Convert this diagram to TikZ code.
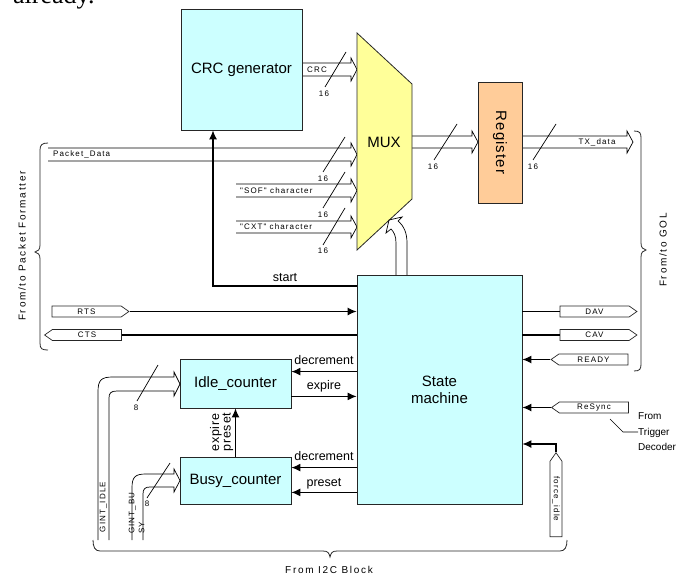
\documentclass[tikz,border=0pt]{standalone}
\usepackage{fontspec}
\setmainfont{Liberation Sans}
\newfontfamily\lsfont[LetterSpace=14]{Liberation Sans}
\newfontfamily\lmfont[LetterSpace=17]{Liberation Sans}
\newfontfamily\lrfont[LetterSpace=7]{Liberation Sans}
\newfontfamily\serfont{Liberation Serif}
\usetikzlibrary{shapes.symbols,arrows.meta,calc}
\definecolor{cyanbox}{HTML}{CCFFFF}
\definecolor{muxy}{HTML}{FFFF99}
\definecolor{regc}{HTML}{FFCC99}
\definecolor{edge}{HTML}{262626}
\newcommand\hbus[4]{\draw[busl] (#1,#3) -- ({#2-6},#3) -- ({#2-6},{#3-5}) -- (#2,{(#3+#4)/2}) -- ({#2-6},{#4+5}) -- ({#2-6},#4) -- (#1,#4);}
\begin{document}
\begin{tikzpicture}[x=1pt,y=-1pt,
  box/.style={draw=edge, line width=0.8pt, inner sep=0, font=\fontsize{15}{17}\selectfont, align=center},
  ctl/.style={line width=1.2pt},
  arr/.style={-{Latex[length=9pt,width=8pt]}},
  busl/.style={line width=0.7pt, line join=miter},
  sig/.style={shape=signal, draw=edge, line width=0.7pt, inner sep=0, minimum height=11pt, minimum width=77pt, signal pointer angle=70, font=\lsfont\fontsize{8}{9}\selectfont},
  small/.style={font=\lsfont\fontsize{8}{9}\selectfont, inner sep=0},
  med/.style={font=\fontsize{12.5}{14}\selectfont, inner sep=0},
  vmed/.style={font=\lrfont\fontsize{12.5}{14}\selectfont, inner sep=0},
  side/.style={font=\lmfont\fontsize{10}{12}\selectfont, inner sep=0},
  slash/.style={line width=0.7pt},
  brace/.style={line width=0.8pt, draw=edge}]
\useasboundingbox (0,0) rectangle (690,578);
\clip (0,0) rectangle (690,578);

\node[anchor=base west, inner sep=0, font=\serfont\fontsize{26}{30}\selectfont] (already) at (13,4) {already.};

% buses (drawn first)
\hbus{302}{357}{63}{76}
\hbus{48}{357}{148}{161}
\hbus{236}{357}{184}{197}
\hbus{236}{357}{221}{233}
\hbus{412}{478}{136}{148}
\hbus{522}{633}{136}{148}

% MUX
\draw[fill=muxy, draw=edge, line width=0.8pt] (357,33) -- (412,84) -- (412,199) -- (357,250) -- cycle;
\node[font=\fontsize{15}{17}\selectfont, inner sep=0] (mux) at (384,142) {MUX};

% boxes
\node[box, fill=cyanbox, minimum width=121pt, minimum height=121pt] (crc) at (241.5,69.5) {CRC generator};
\node[box, fill=regc, minimum width=121pt, minimum height=44pt, rotate=-90, font=\lrfont\fontsize{15}{17}\selectfont] (reg) at (500,142.5) {Register};
\node[box, fill=cyanbox, minimum width=165pt, minimum height=229pt] (sm) at (439.5,389.5) {State\\machine};
\node[box, fill=cyanbox, minimum width=111pt, minimum height=49pt] (idle) at (235.5,383.5) {Idle\_counter};
\node[box, fill=cyanbox, minimum width=111pt, minimum height=47pt] (busy) at (235.5,480.5) {Busy\_counter};

% bus labels
\node[small] (lcrc) at (317,70) {CRC};
\node[small, anchor=west] (lpd) at (53,154.5) {Packet\_Data};
\node[small, anchor=west] (lsof) at (240,190.5) {"SOF" character};
\node[small, anchor=west] (lcxt) at (240,227) {"CXT" character};
\node[small] (ltx) at (597,142) {TX\_data};

% slashes
\draw[slash] (346,52) -- (325,87);
\draw[slash] (345,137) -- (323,172);
\draw[slash] (345,172) -- (323,208);
\draw[slash] (345,208) -- (323,245);
\draw[slash] (457,124) -- (434,160);
\draw[slash] (556,124) -- (533,160);
\draw[slash] (158,365) -- (137,401);
\draw[slash] (170,463) -- (147,498);
\node[small] (w1) at (324,94) {16};
\node[small] (w2) at (323,179) {16};
\node[small] (w3) at (323,215) {16};
\node[small] (w4) at (323,251) {16};
\node[small] (w5) at (433,167) {16};
\node[small] (w6) at (533,167) {16};
\node[small] (w7) at (136,408) {8};
\node[small] (w8) at (147,504) {8};

% SM -> MUX select bus
\draw[busl] (396,275) -- (396,243) .. controls (396,236) and (394,232) .. (391,229) -- (386,233) -- (389,220) -- (402,217) -- (398,221) .. controls (404,226) and (407,233) .. (407,243) -- (407,275);

% start
\coordinate (st) at (213,286);
\draw[ctl,arr] (st -| sm.west) -- (st) -- (st |- crc.south);
\node[med, anchor=base] (lstart) at (285,281) {start};

% signals
\node[sig] (rts) at (86.5,311.5) {RTS};
\node[sig, signal to=west] (cts) at (87,335) {CTS};
\node[sig] (dav) at (594.5,311.5) {DAV};
\node[sig] (cav) at (594.5,335) {CAV};
\node[sig, signal to=west] (ready) at (593.5,359.5) {READY};
\node[sig, signal to=west] (resync) at (594,407.5) {ReSync};
\node[sig, signal to=west, rotate=-90, minimum width=84pt, minimum height=12pt] (fi) at (556,499) {force\_idle};

\draw[ctl,arr] (rts.east) -- (rts.east -| sm.west);
\draw[ctl] (cts.east) -- (cts.east -| sm.west);
\draw[ctl] (dav.west) -- (dav.west -| sm.east);
\draw[ctl] (cav.west) -- (cav.west -| sm.east);
\draw[ctl,arr] (ready.west) -- (ready.west -| sm.east);
\draw[ctl,arr] (resync.west) -- (resync.west -| sm.east);
\coordinate (fic) at (556,444);
\draw[ctl,arr] (fi.west) -- (fic) -- (fic -| sm.east);

% counters
\coordinate (d1) at ([yshift=-13pt]idle.north east);
\coordinate (e1) at ([yshift=12pt]idle.south east);
\coordinate (d2) at ([yshift=-11pt]busy.north east);
\coordinate (p2) at ([yshift=12pt]busy.south east);
\draw[ctl,arr] (d1 -| sm.west) -- (d1) node[med, midway, anchor=base, yshift=7pt] {decrement};
\draw[ctl,arr] (e1) -- (e1 -| sm.west) node[med, midway, anchor=base, yshift=7pt] {expire};
\draw[ctl,arr] (d2 -| sm.west) -- (d2) node[med, midway, anchor=base, yshift=7pt] {decrement};
\draw[ctl,arr] (p2 -| sm.west) -- (p2) node[med, midway, anchor=base, yshift=6pt] {preset};
\draw[ctl,arr] (busy.north) -- (idle.south);
\node[vmed, rotate=90, anchor=base west] (lexp) at (219,452) {expire};
\node[vmed, rotate=90, anchor=base west] (lpre) at (230.5,452) {preset};

% counter input buses
\draw[busl] (98,540) -- (98,392) .. controls (98,380) and (101,377) .. (113,377) -- (174,377) -- (174,372) -- (180,384) -- (174,396) -- (174,391) -- (117,391) .. controls (111,391) and (109,393) .. (109,398) -- (109,540);
\draw[busl] (132,540) -- (132,488) .. controls (132,477) and (135,474) .. (146,474) -- (174,474) -- (174,469) -- (180,480.5) -- (174,492) -- (174,487) -- (150,487) .. controls (145,487) and (143,489) .. (143,494) -- (143,540);
\node[small, rotate=90] (gidle) at (103.5,507) {GINT\_IDLE};
\node[small, rotate=90, align=left, anchor=west, font=\lsfont\fontsize{8}{10}\selectfont] (gbusy) at (136.5,534) {GINT\_BU\\SY};

% braces
\draw[brace] (48,143) .. controls (42,143) and (40,145) .. (40,150) -- (40,245) .. controls (40,250) and (38,251) .. (35,252) .. controls (38,253) and (40,254) .. (40,259) -- (40,343) .. controls (40,349) and (42,350) .. (48,350);
\draw[brace] (634,131) .. controls (640,131) and (641,133) .. (641,138) -- (641,243) .. controls (641,248) and (643,249) .. (646,250) .. controls (643,251) and (641,252) .. (641,257) -- (641,364) .. controls (641,369) and (640,371) .. (634,371);
\draw[brace] (93,540) .. controls (93,547) and (95,551) .. (100,551) -- (323,551) .. controls (328,551) and (329,553) .. (330,557) .. controls (331,553) and (332,551) .. (337,551) -- (560,551) .. controls (565,551) and (567,547) .. (567,540);

\node[side, rotate=90] (lpf) at (22,246) {From/to Packet Formatter};
\node[side, rotate=90] (lgol) at (663,250) {From/to GOL};
\node[side] (li2c) at (329,570) {From I2C Block};

% trigger decoder
\node[anchor=north west, inner sep=0, align=left, font=\fontsize{10}{15.5}\selectfont] (trig) at (638,412.5) {From\\Trigger\\Decoder};
\draw[line width=0.7pt] (610,419) -- (623,432) -- (trig.west |- 0,432);
\end{tikzpicture}
\end{document}
